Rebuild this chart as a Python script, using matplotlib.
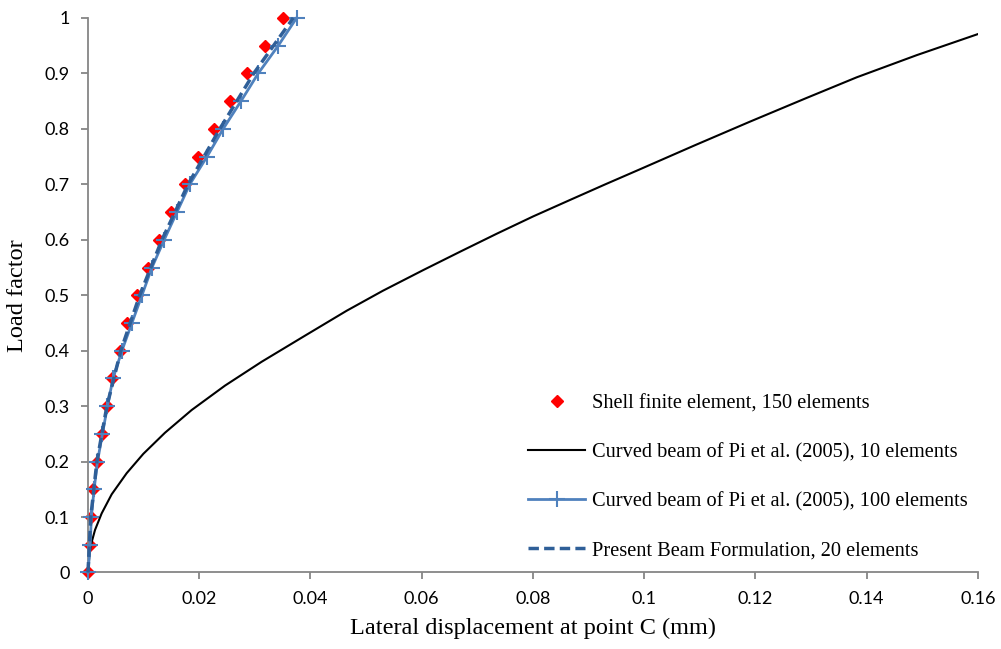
import matplotlib
matplotlib.use("Agg")
import matplotlib.pyplot as plt

# load factor levels shared by the shell and 100-element beam results
load = [0, 0.05, 0.1, 0.15, 0.2, 0.25, 0.3, 0.35, 0.4, 0.45, 0.5,
        0.55, 0.6, 0.65, 0.7, 0.75, 0.8, 0.85, 0.9, 0.95, 1.0]

shell_x = [0, 0.00036, 0.00054, 0.00095, 0.00156, 0.00246, 0.00336, 0.00431,
           0.00584, 0.00701, 0.00881, 0.01079, 0.01276, 0.01501, 0.01744,
           0.01978, 0.02265, 0.02553, 0.02853, 0.03182, 0.03511]

pi100_x = [0, 0.0004, 0.0006, 0.0011, 0.0017, 0.0026, 0.0035, 0.0045,
           0.0061, 0.0079, 0.0097, 0.0115, 0.0137, 0.0160, 0.0183,
           0.0214, 0.0243, 0.0275, 0.0306, 0.0342, 0.0375]

# curved beam of Pi et al., 10 elements
pi10_x = [0, 0.0003, 0.00066, 0.00126, 0.00246, 0.00426, 0.00695, 0.00995,
          0.01384, 0.01864, 0.02463, 0.03122, 0.0390, 0.0465, 0.053, 0.0603,
          0.067, 0.0735, 0.080, 0.0867, 0.093, 0.0992, 0.109, 0.119, 0.129,
          0.1382, 0.149, 0.16]
pi10_y = [0, 0.036, 0.0546, 0.0766, 0.1066, 0.141, 0.179, 0.214,
          0.252, 0.293, 0.337, 0.380, 0.427, 0.472, 0.508, 0.5455,
          0.579, 0.611, 0.642, 0.672, 0.700, 0.727, 0.770, 0.813, 0.855,
          0.893, 0.933, 0.971]

# present beam formulation, 20 elements
present_x = [0, 0.0005, 0.0016, 0.0034, 0.0059, 0.0093, 0.0133, 0.0180,
             0.0237, 0.0298, 0.0369]
present_y = [0, 0.1, 0.2, 0.3, 0.4, 0.5, 0.6, 0.7, 0.8, 0.9, 1.0]

SERIF = "Liberation Serif"
SANS = "Lato"
AXIS_GREY = "#868686"

fig = plt.figure(figsize=(10.01, 6.49), dpi=100)
ax = fig.add_axes([0.0879, 0.1179, 0.8891, 0.8544])

ax.plot(shell_x, load, linestyle="none", marker="D", markersize=6.5,
        color="#FF0000", label="Shell finite element, 150 elements",
        clip_on=False, zorder=2)
ax.plot(pi10_x, pi10_y, color="black", lw=1.5,
        label="Curved beam of Pi et al. (2005), 10 elements", zorder=3)
ax.plot(pi100_x, load, color="#4F81BD", lw=2, marker="+", markersize=11,
        mew=1.5, label="Curved beam of Pi et al. (2005), 100 elements",
        clip_on=False, zorder=4)
ax.plot(present_x, present_y, color="#2F5F98", lw=2.5, linestyle=(0, (3, 1.5)),
        label="Present Beam Formulation, 20 elements", clip_on=False, zorder=5)

ax.set_xlim(0, 0.16)
ax.set_ylim(0, 1)
ax.set_xticks([0, 0.02, 0.04, 0.06, 0.08, 0.1, 0.12, 0.14, 0.16])
ax.set_xticklabels(["0", "0.02", "0.04", "0.06", "0.08", "0.1", "0.12", "0.14", "0.16"])
ax.set_yticks([i / 10 for i in range(11)])
ax.set_yticklabels(["0", "0.1", "0.2", "0.3", "0.4", "0.5", "0.6", "0.7", "0.8", "0.9", "1"])

for side in ("top", "right"):
    ax.spines[side].set_visible(False)
for side in ("left", "bottom"):
    ax.spines[side].set_color(AXIS_GREY)
    ax.spines[side].set_linewidth(1.3)
ax.tick_params(direction="out", length=5, width=1.3, color=AXIS_GREY,
               labelsize=13, pad=8)
for lbl in ax.get_xticklabels() + ax.get_yticklabels():
    lbl.set_family(SANS)

ax.set_xlabel("Lateral displacement at point C (mm)", family=SERIF, fontsize=17.5, labelpad=8)
ax.set_ylabel("Load factor", family=SERIF, fontsize=17.5, labelpad=12)

ax.legend(loc="lower left", bbox_to_anchor=(0.481, 0.0), frameon=False,
          prop={"family": SERIF, "size": 14.7}, handlelength=2.8,
          handletextpad=0.3, labelspacing=1.45, borderaxespad=0.2)

fig.savefig("out.png", dpi=100)
